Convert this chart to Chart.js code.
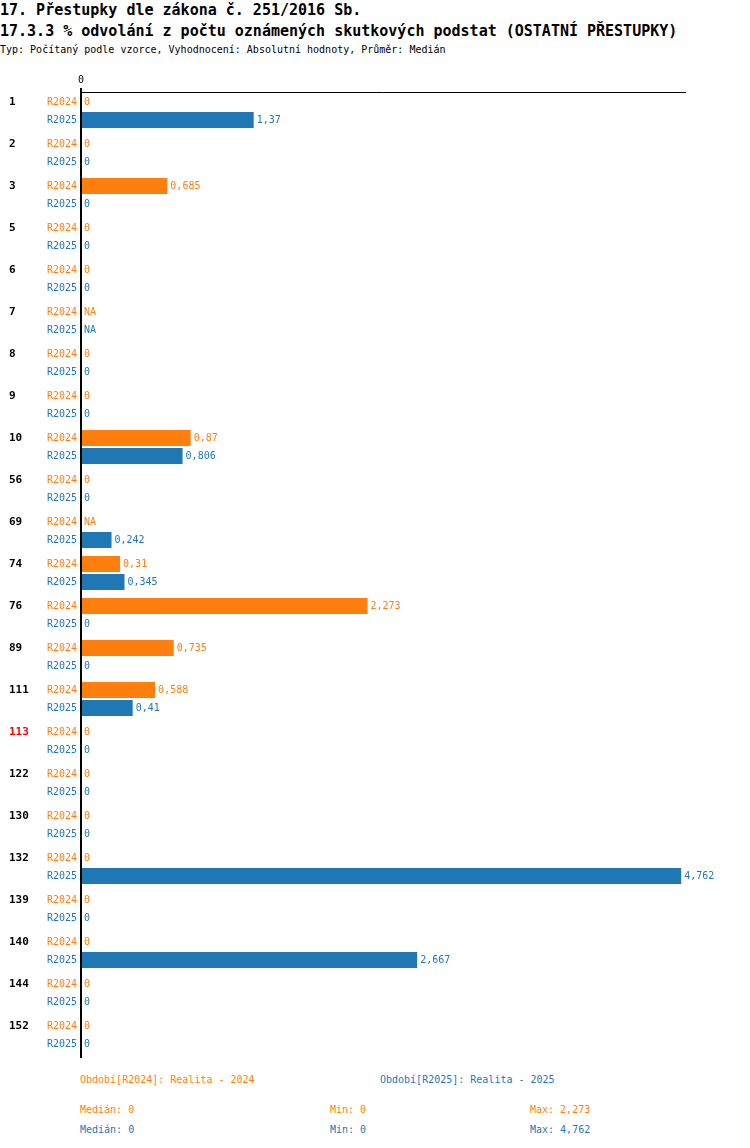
<!DOCTYPE html>
<html>
<head>
<meta charset="utf-8">
<script src="https://cdn.jsdelivr.net/npm/chart.js@4/dist/chart.umd.min.js"></script>
<style>
  body { margin: 0; background: #fff; font-family: "DejaVu Sans Mono", monospace; }
  #page { position: relative; width: 750px; height: 1148px; }
  .t { position: absolute; white-space: pre; }
  #t1 { left: 0; top: 1px; font-size: 15px; font-weight: bold; }
  #t2 { left: 0; top: 22px; font-size: 15px; font-weight: bold; }
  #t3 { left: 0; top: 44px; font-size: 10px; }
  .f { font-size: 10px; }
  .o { color: #ff7f0e; }
  .b { color: #1f77b4; }
  #chartBox { position: absolute; left: 0; top: 70px; width: 750px; height: 1000px; }
</style>
</head>
<body>
<div id="page">
  <div class="t" id="t1">17. Přestupky dle zákona č. 251/2016 Sb.</div>
  <div class="t" id="t2">17.3.3 % odvolání z počtu oznámených skutkových podstat (OSTATNÍ PŘESTUPKY)</div>
  <div class="t" id="t3">Typ: Počítaný podle vzorce, Vyhodnocení: Absolutní hodnoty, Průměr: Medián</div>
  <div id="chartBox"><canvas id="chart" width="750" height="1000"></canvas></div>
  <div class="t f o" style="left:80px;top:1074px">Období[R2024]: Realita - 2024</div>
  <div class="t f b" style="left:380px;top:1074px">Období[R2025]: Realita - 2025</div>
  <div class="t f o" style="left:80px;top:1104px">Medián: 0</div>
  <div class="t f o" style="left:330px;top:1104px">Min: 0</div>
  <div class="t f o" style="left:530px;top:1104px">Max: 2,273</div>
  <div class="t f b" style="left:80px;top:1124px">Medián: 0</div>
  <div class="t f b" style="left:330px;top:1124px">Min: 0</div>
  <div class="t f b" style="left:530px;top:1124px">Max: 4,762</div>
</div>
<script>
// categories (region codes) and the two periods
const categories = ['1', '2', '3', '5', '6', '7', '8', '9', '10', '56', '69', '74', '76', '89',
  '111', '113', '122', '130', '132', '139', '140', '144', '152'];
const highlighted = ['113'];
const periods = ['R2024', 'R2025'];
const colors = ['#ff7f0e', '#1f77b4'];

// null = NA
const values2024 = [0, 0, 0.685, 0, 0, null, 0, 0, 0.87, 0, null, 0.31, 2.273, 0.735,
  0.588, 0, 0, 0, 0, 0, 0, 0, 0];
const values2025 = [1.37, 0, 0, 0, 0, null, 0, 0, 0.806, 0, 0.242, 0.345, 0, 0,
  0.41, 0, 0, 0, 4.762, 0, 2.667, 0, 0];

const xMax = 4.8;
const mono = '"DejaVu Sans Mono", monospace';

function fmt(v) {
  if (v === null) return 'NA';
  return String(v).replace('.', ',');
}

// draws the axis, the left labels and the value labels
const labelsPlugin = {
  id: 'labels',
  afterDatasetsDraw(chart) {
    const ctx = chart.ctx;
    const area = chart.chartArea;
    const xs = chart.scales.x;
    const x0 = xs.getPixelForValue(0);
    ctx.save();

    // top line and zero axis
    ctx.strokeStyle = '#000';
    ctx.lineWidth = 1;
    ctx.beginPath();
    ctx.moveTo(x0, area.top + 2.5);
    ctx.lineTo(area.right, area.top + 2.5);
    ctx.stroke();
    ctx.fillStyle = '#000';
    ctx.fillRect(x0 - 1, area.top - 2, 2, area.bottom - area.top + 4);

    ctx.font = '10px ' + mono;
    ctx.textAlign = 'center';
    ctx.textBaseline = 'bottom';
    ctx.fillText('0', x0, area.top - 5);

    // category numbers
    ctx.font = 'bold 11px ' + mono;
    ctx.textAlign = 'left';
    ctx.textBaseline = 'middle';
    const meta0 = chart.getDatasetMeta(0);
    categories.forEach((c, i) => {
      ctx.fillStyle = highlighted.includes(c) ? '#ff0000' : '#000';
      ctx.fillText(c, 9, meta0.data[i].y);
    });

    // period labels and values
    ctx.font = '10px ' + mono;
    chart.data.datasets.forEach((ds, d) => {
      const meta = chart.getDatasetMeta(d);
      meta.data.forEach((bar, i) => {
        ctx.fillStyle = colors[d];
        ctx.textAlign = 'right';
        ctx.fillText(periods[d], x0 - 4, bar.y);
        ctx.textAlign = 'left';
        const v = ds.data[i];
        const xEnd = v === null ? x0 : xs.getPixelForValue(v);
        ctx.fillText(fmt(v), xEnd + 3, bar.y);
      });
    });
    ctx.restore();
  }
};

new Chart(document.getElementById('chart'), {
  type: 'bar',
  data: {
    labels: categories,
    datasets: [
      { label: periods[0], data: values2024, backgroundColor: colors[0] },
      { label: periods[1], data: values2025, backgroundColor: colors[1] }
    ]
  },
  options: {
    indexAxis: 'y',
    responsive: false,
    animation: false,
    maintainAspectRatio: false,
    devicePixelRatio: 1,
    categoryPercentage: 36 / 42,
    barPercentage: 16 / 18,
    layout: { padding: { left: 81, right: 64, top: 20, bottom: 14 } },
    scales: {
      x: { display: false, min: 0, max: xMax },
      y: { display: false }
    },
    plugins: { legend: { display: false }, tooltip: { enabled: false } }
  },
  plugins: [labelsPlugin]
});
</script>
</body>
</html>
